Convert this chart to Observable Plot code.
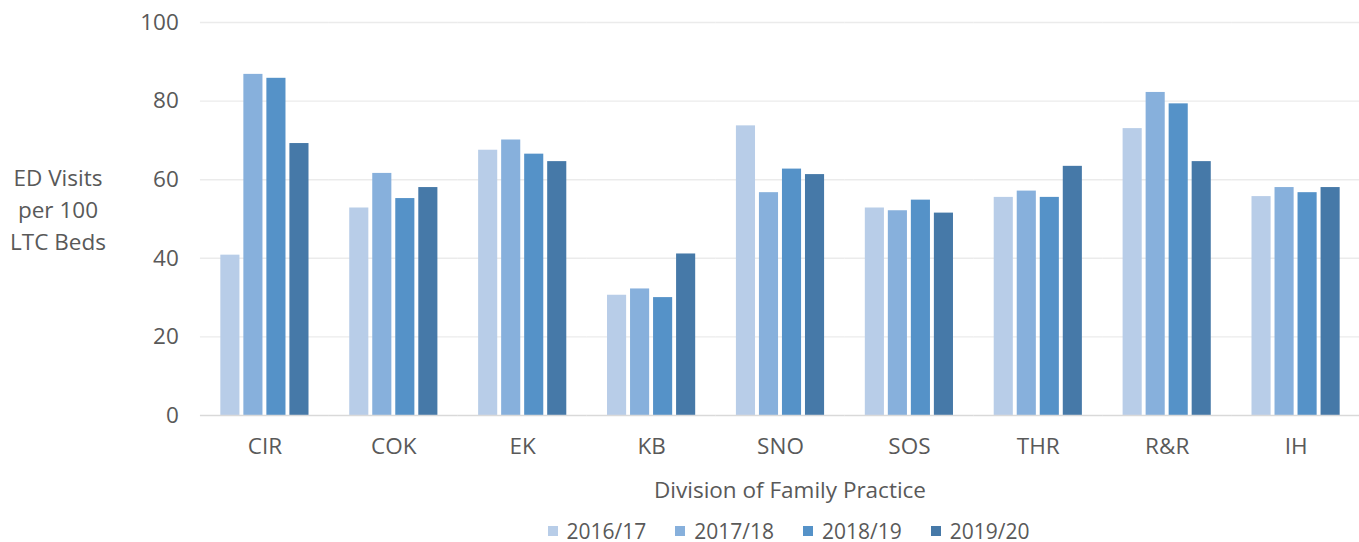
<!DOCTYPE html>
<html><head><meta charset="utf-8">
<script src="https://cdn.jsdelivr.net/npm/d3@7"></script>
<script src="https://cdn.jsdelivr.net/npm/@observablehq/plot@0.6"></script>
<style>
body{margin:0;background:#fff;}
#chart{position:relative;width:1359px;height:542px;font-family:"Open Sans",sans-serif;}
#legend{position:absolute;left:0;top:514px;width:1359px;}
#legend > div{width:1359px;box-sizing:border-box;padding-left:218px;justify-content:center;}
.lg-swatch{margin-right:29px !important;}
.lg-swatch:last-child{margin-right:0 !important;}
.lg-swatch svg{margin-right:9px !important;}
#ylab{position:absolute;left:0;width:116px;top:162px;text-align:center;font-size:22.5px;line-height:32px;color:#595959;}
#xlab{position:absolute;left:590px;width:400px;top:475px;text-align:center;font-size:22.5px;line-height:30px;color:#595959;}
</style></head><body><div id="chart"><div id="ylab">ED Visits<br>per 100<br>LTC Beds</div><div id="xlab">Division of Family Practice</div></div>
<script>
const FONT = "'Open Sans', sans-serif";
const divisions = ["CIR","COK","EK","KB","SNO","SOS","THR","R&R","IH"];
const years = ["2016/17","2017/18","2018/19","2019/20"];
const v1617 = [40.8,52.8,67.5,30.6,73.7,52.8,55.5,73.0,55.7];
const v1718 = [86.8,61.6,70.1,32.2,56.7,52.1,57.1,82.2,58.0];
const v1819 = [85.8,55.2,66.5,30.0,62.7,54.8,55.5,79.3,56.7];
const v1920 = [69.2,58.0,64.6,41.1,61.3,51.5,63.4,64.6,58.0];
const colors = ["#b8cde8","#87b0dc","#5592c8","#4679a8"];
const yTicks = [0,20,40,60,80,100];
const series = [v1617, v1718, v1819, v1920];
const data = divisions.flatMap((d,i)=> years.map((y,j)=>({division:d, year:y, value: series[j][i]})));

const ext = -20.4;
const plot = Plot.plot({
  width:1359, height:512, marginTop:22, marginBottom:97, marginLeft:201, marginRight:0,
  style:{fontFamily:FONT, fontSize:"22.5px", color:"#595959", background:"white", overflow:"visible"},
  fx:{domain:divisions, paddingInner:0.316, paddingOuter:0.15, round:false, label:null, tickSize:0, tickPadding:23},
  x:{domain:years, paddingInner:0.17, paddingOuter:0, round:false, axis:null},
  y:{domain:[0,100], ticks:yTicks, tickSize:0, tickPadding:42, label:null},
  color:{domain:years, range:colors},
  marks:[
    Plot.ruleY(yTicks.filter(t=>t>0), {stroke:"#ebebeb", strokeWidth:1.4, insetLeft:ext, insetRight:ext}),
    Plot.barY(data, {fx:"division", x:"year", y:"value", fill:"year"}),
    Plot.ruleY([0], {stroke:"#d9d9d9", strokeWidth:1.6, insetLeft:ext, insetRight:ext})
  ]
});
const chart = document.getElementById("chart");
chart.appendChild(plot);
const lg = Plot.legend({color:{domain:years, range:colors}, legend:"swatches", swatchSize:10, className:"lg",
  style:{fontFamily:FONT, fontSize:"21px", color:"#595959"}});
const ld = document.createElement("div"); ld.id="legend"; ld.appendChild(lg);
chart.appendChild(ld);
</script></body></html>
